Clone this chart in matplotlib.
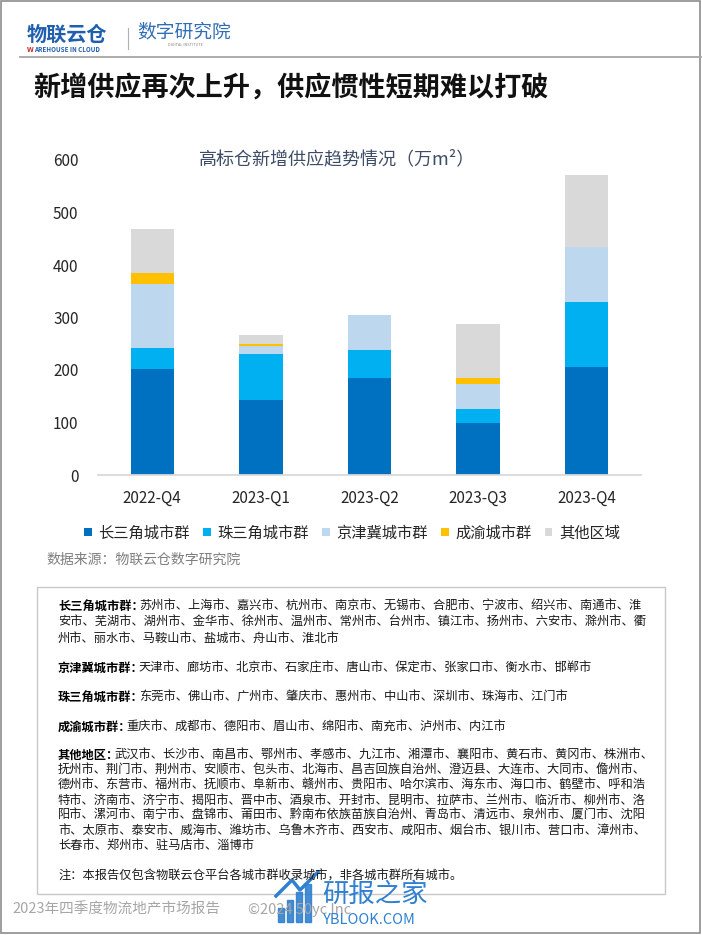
import matplotlib
matplotlib.use("Agg")
import matplotlib.pyplot as plt
from matplotlib.patches import Rectangle
import numpy as np

plt.rcParams['font.family'] = ['Noto Sans CJK SC', 'DejaVu Sans']

W, H = 702, 935

# data (万m²)
quarters = ['2022-Q4', '2023-Q1', '2023-Q2', '2023-Q3', '2023-Q4']
series_names = ['长三角城市群', '珠三角城市群', '京津冀城市群', '成渝城市群', '其他区域']
yrd = [202, 143, 184, 99, 206]
prd = [40, 88, 54, 26, 123]
jjj = [122, 14, 67, 48, 106]
cy = [20, 5, 0, 12, 0]
other = [84, 17, 0, 103, 136]
colors = ['#0070C0', '#00B0F0', '#BDD7EE', '#FFC000', '#D9D9D9']

yticks = [0, 100, 200, 300, 400, 500, 600]

city_lines = [
    ('长三角城市群：', '苏州市、上海市、嘉兴市、杭州市、南京市、无锡市、合肥市、宁波市、绍兴市、南通市、淮'),
    ('', '安市、芜湖市、湖州市、金华市、徐州市、温州市、常州市、台州市、镇江市、扬州市、六安市、滁州市、衢'),
    ('', '州市、丽水市、马鞍山市、盐城市、舟山市、淮北市'),
    ('京津冀城市群：', '天津市、廊坊市、北京市、石家庄市、唐山市、保定市、张家口市、衡水市、邯郸市'),
    ('珠三角城市群：', '东莞市、佛山市、广州市、肇庆市、惠州市、中山市、深圳市、珠海市、江门市'),
    ('成渝城市群：', '重庆市、成都市、德阳市、眉山市、绵阳市、南充市、泸州市、内江市'),
    ('其他地区：', '武汉市、长沙市、南昌市、鄂州市、孝感市、九江市、湘潭市、襄阳市、黄石市、黄冈市、株洲市、'),
    ('', '抚州市、荆门市、荆州市、安顺市、包头市、北海市、昌吉回族自治州、澄迈县、大连市、大同市、儋州市、'),
    ('', '德州市、东营市、福州市、抚顺市、阜新市、赣州市、贵阳市、哈尔滨市、海东市、海口市、鹤壁市、呼和浩'),
    ('', '特市、济南市、济宁市、揭阳市、晋中市、酒泉市、开封市、昆明市、拉萨市、兰州市、临沂市、柳州市、洛'),
    ('', '阳市、漯河市、南宁市、盘锦市、莆田市、黔南布依族苗族自治州、青岛市、清远市、泉州市、厦门市、沈阳'),
    ('', '市、太原市、泰安市、威海市、潍坊市、乌鲁木齐市、西安市、咸阳市、烟台市、银川市、营口市、漳州市、'),
    ('', '长春市、郑州市、驻马店市、淄博市'),
    ('', '注：本报告仅包含物联云仓平台各城市群收录城市，非各城市群所有城市。'),
]
line_y = [606, 622, 638, 668, 697, 727, 755, 770, 785, 800, 815, 830, 845, 876]


def fx(x):
    return x / W


def fy(y):
    return 1 - y / H


fig = plt.figure(figsize=(W / 100, H / 100), dpi=100)
fig.patch.set_facecolor('white')
renderer = fig.canvas.get_renderer()

# page frame
fig.patches.append(Rectangle((fx(1), fy(933)), fx(699), 932 / H, transform=fig.transFigure,
                             fill=False, edgecolor='#8C8C8C', linewidth=1.2))

# header logo
fig.text(fx(27), fy(34), '物联云仓', fontsize=14.5, fontweight='bold', color='#1F5FAE',
         va='center', ha='left')
tw = fig.text(fx(27), fy(49.5), 'W', fontsize=5.3, fontweight='bold', color='#C0282D',
              va='center', ha='left')
wx = tw.get_window_extent(renderer=renderer).x1 / fig.bbox.width
fig.text(wx + 0.5 / W, fy(49.5), 'AREHOUSE IN CLOUD', fontsize=4.5, fontweight='bold', color='#1F5FAE',
         va='center', ha='left')
fig.lines.append(plt.Line2D([fx(128), fx(128)], [fy(28), fy(49)], transform=fig.transFigure,
                            color='#B0B0B0', linewidth=0.8))
fig.text(fx(137), fy(32), '数字研究院', fontsize=13.5, color='#2F6DB5', va='center', ha='left')
fig.text(fx(185), fy(45), 'DIGITAL INSTITUTE', fontsize=2.8, color='#808080', va='center', ha='center')
fig.lines.append(plt.Line2D([fx(20), fx(701)], [fy(57), fy(57)], transform=fig.transFigure,
                            color='#A6A6A6', linewidth=1.3))

# main title
fig.text(fx(33), fy(88), '新增供应再次上升，供应惯性短期难以打破', fontsize=19.5, fontweight='bold',
         color='#111111', va='center', ha='left')

# chart
ax = fig.add_axes([fx(98), fy(475), (641 - 98) / W, (475 - 160) / H])
x = np.arange(len(quarters))
bottom = np.zeros(len(quarters))
for name, vals, c in zip(series_names, [yrd, prd, jjj, cy, other], colors):
    ax.bar(x, vals, width=0.4, bottom=bottom, color=c, label=name)
    bottom += np.array(vals)

ax.set_xlim(-0.5, 4.5)
ax.set_ylim(0, 600)
ax.set_yticks(yticks)
ax.set_xticks(x)
ax.set_xticklabels(quarters)
for s in ['top', 'right', 'left']:
    ax.spines[s].set_visible(False)
ax.spines['bottom'].set_color('#D9D9D9')
ax.spines['bottom'].set_linewidth(1.3)
ax.tick_params(axis='both', length=0, labelsize=11, labelcolor='#262626')
ax.tick_params(axis='y', pad=14)
ax.tick_params(axis='x', pad=11)

fig.text(fx(337), fy(159), '高标仓新增供应趋势情况（万m²）', fontsize=13, color='#3E4C66',
         va='center', ha='center')

handles, labels = ax.get_legend_handles_labels()
fig.legend(handles, labels, loc='center', bbox_to_anchor=(fx(352), fy(533)), ncol=5, frameon=False,
           fontsize=11, handlelength=0.5, handleheight=0.5, handletextpad=0.45, columnspacing=0.85,
           labelcolor='#262626')

fig.text(fx(46), fy(560), '数据来源：物联云仓数字研究院', fontsize=10, color='#7F7F7F',
         va='center', ha='left')

# city list box
fig.patches.append(Rectangle((fx(37), fy(894)), (665 - 37) / W, (894 - 587) / H,
                             transform=fig.transFigure, fill=False, edgecolor='#C8C8C8', linewidth=1.0))

fs = 8.8
for (lab, rest), yy in zip(city_lines, line_y):
    x0 = fx(58)
    if lab:
        t = fig.text(x0, fy(yy), lab, fontsize=fs, fontweight='bold', color='#000000',
                     va='center', ha='left')
        bb = t.get_window_extent(renderer=renderer)
        x0 = (bb.x1 - 5) / fig.bbox.width
    fig.text(x0, fy(yy), rest, fontsize=fs, color='#1A1A1A', va='center', ha='left')

# footer
fig.text(fx(12), fy(910), '2023年四季度物流地产市场报告', fontsize=10.5, color='#A6A6A6',
         va='center', ha='left')
fig.text(fx(248), fy(910), '©2024 50yc Inc', fontsize=10.5, color='#A6A6A6', va='center', ha='left')

# watermark
for bx, bh in [(278, 14), (287, 22), (296, 30), (305, 38)]:
    fig.patches.append(Rectangle((fx(bx), fy(922)), 6 / W, bh / H, transform=fig.transFigure,
                                 color='#2F80D0', alpha=0.9))
fig.lines.append(plt.Line2D([fx(276), fx(292), fx(300), fx(318)], [fy(896), fy(880), fy(890), fy(872)],
                            transform=fig.transFigure, color='#2F80D0', linewidth=2.5))
fig.text(fx(322), fy(894), '研报之家', fontsize=19, color='#2F80D0', va='center', ha='left')
fig.text(fx(323), fy(920), 'YBLOOK.COM', fontsize=10.5, color='#2F80D0', va='center', ha='left')

fig.savefig('out.png', dpi=100)
